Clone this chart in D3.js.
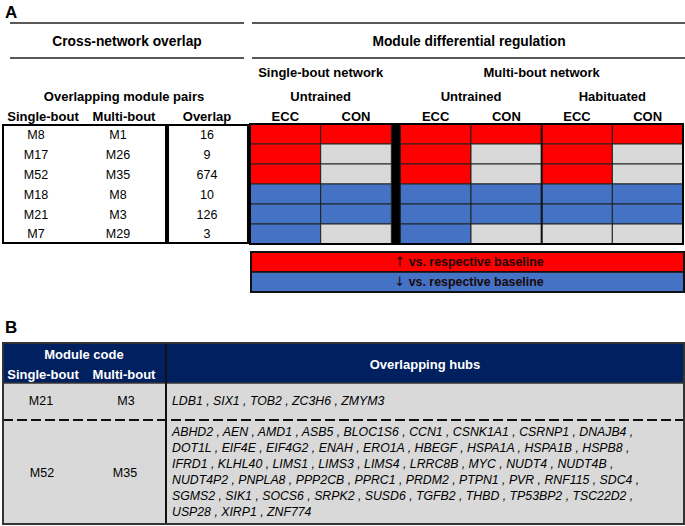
<!DOCTYPE html>
<html><head><meta charset="utf-8">
<script src="https://cdn.jsdelivr.net/npm/d3@7"></script>
<style>
html,body{margin:0;padding:0;background:#fff;}
svg{display:block;font-family:"Liberation Sans",Arial,sans-serif;}
</style></head>
<body><svg id="c" width="685" height="526"></svg>
<script>
// ---------- DATA ----------
const singleBout = ["M8","M17","M52","M18","M21","M7"];
const multiBout  = ["M1","M26","M35","M8","M3","M29"];
const overlap    = [16, 9, 674, 10, 126, 3];
const networks   = ["Single-bout network","Multi-bout network"];
const groups     = ["Untrained","Untrained","Habituated"];
const conditions = ["ECC","CON","ECC","CON","ECC","CON"];
// regulation per row, per column (SB-Untr ECC, SB-Untr CON, MB-Untr ECC, MB-Untr CON, MB-Hab ECC, MB-Hab CON)
const regulation = [
  ["up","up","up","up","up","up"],
  ["up","ns","up","ns","up","ns"],
  ["up","ns","up","ns","up","ns"],
  ["down","down","down","down","down","down"],
  ["down","down","down","down","down","down"],
  ["down","ns","down","ns","ns","ns"]
];
const legendItems = [["up","\u2191"," vs. respective baseline"],["down","\u2193"," vs. respective baseline"]];
const hubSingle = ["M21","M52"];
const hubMulti  = ["M3","M35"];
const hubsM3  = ["LDB1","SIX1","TOB2","ZC3H6","ZMYM3"];
const hubsM35 = ["ABHD2","AEN","AMD1","ASB5","BLOC1S6","CCN1","CSNK1A1","CSRNP1","DNAJB4",
  "DOT1L","EIF4E","EIF4G2","ENAH","ERO1A","HBEGF","HSPA1A","HSPA1B","HSPB8",
  "IFRD1","KLHL40","LIMS1","LIMS3","LIMS4","LRRC8B","MYC","NUDT4","NUDT4B",
  "NUDT4P2","PNPLA8","PPP2CB","PPRC1","PRDM2","PTPN1","PVR","RNF115","SDC4",
  "SGMS2","SIK1","SOCS6","SRPK2","SUSD6","TGFB2","THBD","TP53BP2","TSC22D2",
  "USP28","XIRP1","ZNF774"];
const hubsPerLine = 9;

// ---------- STYLE ----------
const colors = {up:"#FF0000", down:"#4472C4", ns:"#D9D9D9"};
const navy = "#002060", grey = "#D9D9D9";
const F_TITLE = 13.8, F_HEAD = 13, F_BODY = 12.5, F_HUB = 12.3, F_LEG = 12.4;
const svg = d3.select("#c");

function txt(x,y,s,opt={}){
  return svg.append("text").attr("x",x).attr("y",y).attr("dy","0.35em")
    .attr("text-anchor",opt.anchor||"middle")
    .attr("font-size",opt.size||12)
    .attr("font-weight",opt.bold?"bold":"normal")
    .attr("font-style",opt.italic?"italic":"normal")
    .attr("fill",opt.fill||"#000").text(s);
}

// ---------- PANEL A ----------
txt(5,12,"A",{anchor:"start",size:17,bold:true});
[23,58].forEach(y=>{
  svg.append("line").attr("x1",10).attr("x2",244).attr("y1",y).attr("y2",y).attr("stroke","#222").attr("stroke-width",1.5);
  svg.append("line").attr("x1",252).attr("x2",685).attr("y1",y).attr("y2",y).attr("stroke","#222").attr("stroke-width",1.5);
});
txt(127,41,"Cross-network overlap",{bold:true,size:F_TITLE});
txt(469,41,"Module differential regulation",{bold:true,size:F_TITLE});

txt(124,96,"Overlapping module pairs",{bold:true,size:F_HEAD});
txt(43,116,"Single-bout",{bold:true,size:F_HEAD});
txt(124,116,"Multi-bout",{bold:true,size:F_HEAD});
txt(207,116,"Overlap",{bold:true,size:F_HEAD});

const yRow = d3.scaleBand().domain(d3.range(singleBout.length)).range([125,244]);
svg.append("rect").attr("x",3).attr("y",125).attr("width",163).attr("height",118).attr("fill","none").attr("stroke","#000").attr("stroke-width",2);
svg.append("rect").attr("x",168).attr("y",125).attr("width",80).attr("height",118).attr("fill","none").attr("stroke","#000").attr("stroke-width",2);
singleBout.forEach((d,i)=>{
  const y = yRow(i)+yRow.bandwidth()/2;
  txt(36,y,d,{size:F_BODY});
  txt(118,y,multiBout[i],{size:F_BODY});
  txt(207,y,overlap[i],{size:F_BODY});
});

// heatmap
const gap = 9, hx0 = 250, hx1 = 683;
const xCol = d3.scaleBand().domain(d3.range(conditions.length)).range([hx0, hx1-gap]);
const cx = i => xCol(i) + (i>=2 ? gap : 0);
const hy0 = 124, hy1 = 244;
const yH = d3.scaleBand().domain(d3.range(regulation.length)).range([hy0,hy1]);
svg.append("rect").attr("x",hx0).attr("y",hy0).attr("width",hx1-hx0).attr("height",hy1-hy0).attr("fill","#000");
regulation.forEach((row,r)=>{
  row.forEach((v,c)=>{
    svg.append("rect").attr("x",cx(c)).attr("y",yH(r)).attr("width",xCol.bandwidth()).attr("height",yH.bandwidth())
      .attr("fill",colors[v]).attr("stroke","#222").attr("stroke-width",1);
  });
});
svg.append("line").attr("x1",cx(4)).attr("x2",cx(4)).attr("y1",hy0).attr("y2",hy1).attr("stroke","#111").attr("stroke-width",2);
svg.append("rect").attr("x",hx0).attr("y",hy0).attr("width",hx1-hx0).attr("height",hy1-hy0).attr("fill","none").attr("stroke","#000").attr("stroke-width",2);

txt((cx(0)+cx(1)+xCol.bandwidth())/2,72,networks[0],{bold:true,size:F_HEAD});
txt((cx(2)+cx(5)+xCol.bandwidth())/2,72,networks[1],{bold:true,size:F_HEAD});
groups.forEach((g,k)=>{
  txt((cx(2*k)+cx(2*k+1)+xCol.bandwidth())/2,96,g,{bold:true,size:F_HEAD});
});
conditions.forEach((c,i)=>txt(cx(i)+xCol.bandwidth()/2,116,c,{bold:true,size:F_HEAD}));

// legend
const yL = d3.scaleBand().domain(d3.range(legendItems.length)).range([252,292]);
legendItems.forEach(([k,arrow,label],i)=>{
  svg.append("rect").attr("x",251).attr("y",yL(i)).attr("width",433).attr("height",yL.bandwidth())
    .attr("fill",colors[k]).attr("stroke","#111").attr("stroke-width",1.5);
  const t = txt(469,yL(i)+yL.bandwidth()/2,"",{bold:true,size:F_LEG,fill:"#1a0a0a"});
  t.append("tspan").attr("font-family","DejaVu Sans").attr("font-weight","normal").attr("font-size",13).text(arrow);
  t.append("tspan").text(label);
});
svg.append("rect").attr("x",251).attr("y",252).attr("width",433).attr("height",40).attr("fill","none").attr("stroke","#111").attr("stroke-width",2);

// ---------- PANEL B ----------
txt(5,327,"B",{anchor:"start",size:17,bold:true});
const bx0=3, bxm=166, bx1=684;
const bTop=343, bHead=383, bDash=420, bBot=524;
svg.append("rect").attr("x",bx0).attr("y",bTop).attr("width",bx1-bx0).attr("height",bHead-bTop).attr("fill",navy);
svg.append("rect").attr("x",bx0).attr("y",bHead).attr("width",bx1-bx0).attr("height",bBot-bHead).attr("fill",grey);
txt(84,354,"Module code",{bold:true,size:F_HEAD,fill:"#fff"});
txt(43,374,"Single-bout",{bold:true,size:F_HEAD,fill:"#fff"});
txt(124,374,"Multi-bout",{bold:true,size:F_HEAD,fill:"#fff"});
txt(425,364,"Overlapping hubs",{bold:true,size:F_HEAD,fill:"#fff"});
svg.append("line").attr("x1",bx0).attr("x2",bx1).attr("y1",bHead).attr("y2",bHead).attr("stroke","#333").attr("stroke-width",1.5);
svg.append("line").attr("x1",bx0).attr("x2",bx1).attr("y1",bDash).attr("y2",bDash).attr("stroke","#111").attr("stroke-width",2).attr("stroke-dasharray","10,4");
svg.append("line").attr("x1",bxm).attr("x2",bxm).attr("y1",bTop).attr("y2",bBot).attr("stroke","#111").attr("stroke-width",2);
svg.append("rect").attr("x",bx0).attr("y",bTop).attr("width",bx1-bx0).attr("height",bBot-bTop).attr("fill","none").attr("stroke","#333").attr("stroke-width",2);

txt(41,401,hubSingle[0],{size:F_BODY});
txt(126,401,hubMulti[0],{size:F_BODY});
txt(172,401,hubsM3.join(" , "),{anchor:"start",italic:true,size:F_HUB});
txt(42,473,hubSingle[1],{size:F_BODY});
txt(125,473,hubMulti[1],{size:F_BODY});
const lines = d3.range(0,hubsM35.length,hubsPerLine).map(s=>hubsM35.slice(s,s+hubsPerLine));
lines.forEach((ln,i)=>{
  const s = ln.join(" , ") + (i<lines.length-1?" ,":"");
  txt(172,432+i*16,s,{anchor:"start",italic:true,size:F_HUB});
});
</script></body></html>
